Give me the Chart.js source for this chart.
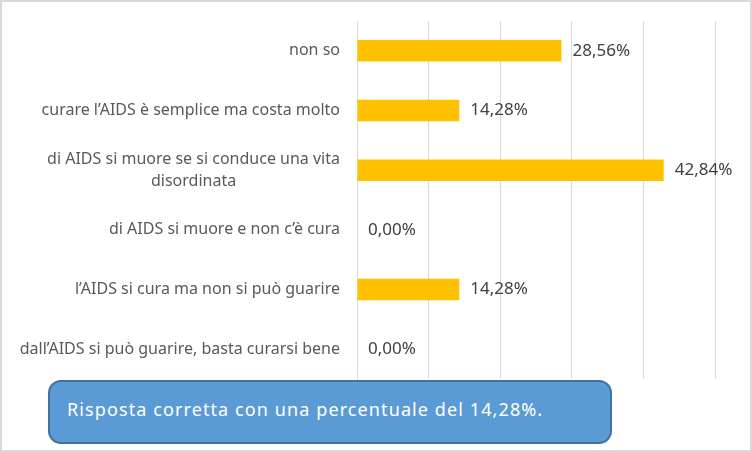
<!DOCTYPE html>
<html>
<head>
<meta charset="utf-8">
<script src="https://cdn.jsdelivr.net/npm/chart.js@4/dist/chart.umd.min.js"></script>
<style>
  html, body { margin: 0; padding: 0; background: #fff; }
  #wrap { position: relative; width: 752px; height: 452px; }
  #frame { position: absolute; left: 0; top: 0; width: 748px; height: 448px; border: 2px solid #d9d9d9; pointer-events: none; }
  #note {
    position: absolute; left: 48px; top: 380px; width: 564px; height: 64px;
    background: #5b9bd5; border: 2px solid #41719c; border-radius: 13px;
    color: #fff; font-family: "Noto Sans", sans-serif; font-size: 18px; letter-spacing: 1.1px;
    box-sizing: border-box; padding: 15px 0 0 17px;
  }
</style>
</head>
<body>
<div id="wrap">
  <canvas id="chart" width="752" height="452"></canvas>
  <div id="frame"></div>
  <div id="note">Risposta corretta con una percentuale del 14,28%.</div>
</div>
<script>
// answers, top to bottom
const categories = [
  'non so',
  'curare l\u2019AIDS è semplice ma costa molto',
  ['di AIDS si muore se si conduce una vita', 'disordinata'],
  'di AIDS si muore e non c\u2019è cura',
  'l\u2019AIDS si cura ma non si può guarire',
  'dall\u2019AIDS si può guarire, basta curarsi bene'
];
const percentages = [28.56, 14.28, 42.84, 0.00, 14.28, 0.00];

const FONT = '"Noto Sans", sans-serif';

// category labels on the left and value labels after each bar
const labelsPlugin = {
  id: 'labels',
  afterDatasetsDraw(chart) {
    const ctx = chart.ctx;
    const meta = chart.getDatasetMeta(0);
    const area = chart.chartArea;
    ctx.save();
    ctx.textBaseline = 'middle';
    meta.data.forEach((bar, i) => {
      // value
      ctx.font = '17px ' + FONT;
      ctx.fillStyle = '#404040';
      ctx.textAlign = 'left';
      ctx.fillText(percentages[i].toFixed(2).replace('.', ',') + '%', bar.x + 11, bar.y);

      // category, multi-line ones centred on their widest line
      ctx.font = '16px ' + FONT;
      ctx.fillStyle = '#595959';
      const lines = Array.isArray(categories[i]) ? categories[i] : [categories[i]];
      const right = area.left - 17;
      const lh = 22;
      const y0 = bar.y - (lines.length - 1) * lh / 2;
      const w = Math.max(...lines.map(l => ctx.measureText(l).width));
      lines.forEach((l, k) => {
        if (lines.length === 1) {
          ctx.textAlign = 'right';
          ctx.fillText(l, right, y0);
        } else {
          ctx.textAlign = 'center';
          ctx.fillText(l, right - w / 2, y0 + k * lh);
        }
      });
    });
    ctx.restore();
  }
};

new Chart(document.getElementById('chart'), {
  type: 'bar',
  data: {
    labels: categories,
    datasets: [{
      data: percentages,
      backgroundColor: '#ffc000',
      categoryPercentage: 1,
      barPercentage: 0.36
    }]
  },
  options: {
    indexAxis: 'y',
    responsive: false,
    animation: false,
    layout: { padding: { left: 357, right: 37, top: 21, bottom: 73 } },
    scales: {
      x: {
        min: 0, max: 50,
        ticks: { display: false, stepSize: 10 },
        grid: { color: '#d9d9d9', drawTicks: false },
        border: { display: false }
      },
      y: {
        ticks: { display: false },
        grid: { display: false, drawTicks: false },
        border: { color: '#d9d9d9' }
      }
    },
    plugins: {
      legend: { display: false },
      tooltip: { enabled: false }
    }
  },
  plugins: [labelsPlugin]
});
</script>
</body>
</html>
